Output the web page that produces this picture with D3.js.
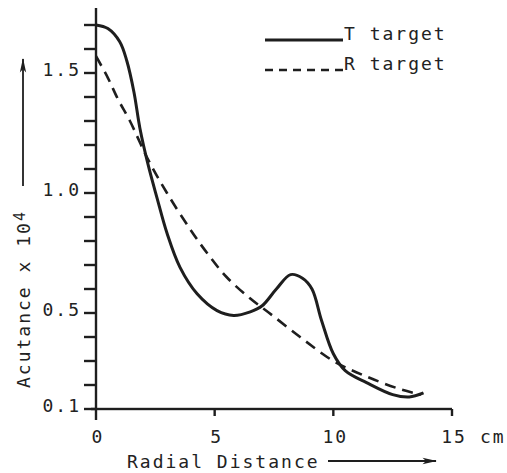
<!DOCTYPE html>
<html>
<head>
<meta charset="utf-8">
<script src="https://cdn.jsdelivr.net/npm/d3@7"></script>
<style>
  body { margin: 0; background: #fff; }
  text { font-family: "DejaVu Sans Mono", "Liberation Mono", monospace; fill: #222; font-size: 18px; letter-spacing: 2px; }
</style>
</head>
<body>
<div id="chart"></div>
<script>
const width = 507
const height = 473

// T target (solid)
const tDist = [0, 0.5, 1, 1.3, 1.6, 1.85, 2.19, 2.57, 3, 3.54, 4.26, 5.1, 5.8, 6.5, 7, 7.6, 8.2, 8.7, 9.1, 9.5, 10, 10.5, 11.4, 12.5, 13.2, 13.8]
const tAcut = [1.70, 1.685, 1.63, 1.55, 1.42, 1.27, 1.12, 0.98, 0.83, 0.69, 0.58, 0.51, 0.49, 0.505, 0.53, 0.6, 0.66, 0.645, 0.6, 0.47, 0.33, 0.26, 0.21, 0.16, 0.15, 0.167]

// R target (dashed)
const rDist = [0, 0.5, 0.93, 1.43, 2.19, 2.99, 3.96, 4.68, 5.5, 6.5, 7.3, 8.6, 10, 11.4, 12.9, 13.7]
const rAcut = [1.57, 1.48, 1.39, 1.30, 1.14, 1.0, 0.85, 0.75, 0.65, 0.56, 0.5, 0.4, 0.3, 0.235, 0.18, 0.16]

const xTicks = [0, 5, 10, 15]
const yTicks = [0.1, 0.2, 0.3, 0.4, 0.5, 0.6, 0.7, 0.8, 0.9, 1.0, 1.1, 1.2, 1.3, 1.4, 1.5, 1.6, 1.7]
const yLabelTicks = [0.1, 0.5, 1.0, 1.5]

const x = d3.scaleLinear().domain([0, 15]).range([96, 452])
const y = d3.scaleLinear().domain([0.1, 1.7]).range([409, 25])

const svg = d3.select("#chart")
    .append("svg")
    .attr("width", width)
    .attr("height", height)

const ink = "#1e1e1e"

// y ticks, pointing left
svg.append("g").selectAll("rect")
  .data(yTicks)
  .join("rect")
    .attr("x", x(0) - 12).attr("width", 12)
    .attr("y", d => y(d) - 1.2).attr("height", 2.4)
    .attr("fill", ink)

// x ticks, pointing down
svg.append("g").selectAll("rect")
  .data(xTicks)
  .join("rect")
    .attr("x", d => x(d) - 1.2).attr("width", 2.4)
    .attr("y", y(0.1)).attr("height", d => d === 0 ? 11 : 7)
    .attr("fill", ink)

// axis lines
svg.append("rect")
    .attr("x", x(0) - 1.2).attr("width", 2.4)
    .attr("y", 8).attr("height", y(0.1) - 8)
    .attr("fill", ink)
svg.append("rect")
    .attr("x", x(0) - 5).attr("width", x(15) - x(0) + 5)
    .attr("y", y(0.1) - 1.2).attr("height", 2.4)
    .attr("fill", ink)

svg.selectAll(".ylab")
  .data(yLabelTicks)
  .join("text")
    .attr("class", "ylab")
    .attr("x", 81).attr("y", d => y(d) + 3)
    .attr("text-anchor", "end")
    .text(d => d.toFixed(1))

svg.selectAll(".xlab")
  .data(xTicks)
  .join("text")
    .attr("class", "xlab")
    .attr("x", d => x(d) + 2).attr("y", 443)
    .attr("text-anchor", "middle")
    .text(d => d)

svg.append("text")
    .attr("x", 480).attr("y", 443)
    .text("cm")

// arrow marker
svg.append("defs").append("marker")
    .attr("id", "arrow")
    .attr("viewBox", "0 0 16 10")
    .attr("refX", 15).attr("refY", 5)
    .attr("markerWidth", 16).attr("markerHeight", 9)
    .attr("markerUnits", "userSpaceOnUse")
    .attr("orient", "auto")
  .append("path")
    .attr("d", "M0,1.5 L16,5 L0,8.5 L4,5 Z")
    .attr("fill", ink)

// axis titles
svg.append("text")
    .attr("x", 127).attr("y", 468)
    .text("Radial Distance")
svg.append("line")
    .attr("x1", 328).attr("x2", 436)
    .attr("y1", 461).attr("y2", 461)
    .attr("stroke", ink).attr("stroke-width", 1.8)
    .attr("marker-end", "url(#arrow)")

const yTitle = svg.append("text")
    .attr("transform", "translate(30,388) rotate(-90)")
yTitle.append("tspan").text("Acutance x 10")
yTitle.append("tspan").attr("dy", "-0.35em").style("font-size", "15px").text("4")
svg.append("line")
    .attr("x1", 23).attr("x2", 23)
    .attr("y1", 186).attr("y2", 59)
    .attr("stroke", ink).attr("stroke-width", 1.8)
    .attr("marker-end", "url(#arrow)")

// curves
const line = d3.line()
    .x(d => x(d[0]))
    .y(d => y(d[1]))
    .curve(d3.curveCatmullRom.alpha(0.5))

svg.append("path")
    .datum(d3.zip(tDist, tAcut))
    .attr("d", line)
    .attr("fill", "none")
    .attr("stroke", ink)
    .attr("stroke-width", 3)

svg.append("path")
    .datum(d3.zip(rDist, rAcut))
    .attr("d", line)
    .attr("fill", "none")
    .attr("stroke", ink)
    .attr("stroke-width", 2.6)
    .attr("stroke-dasharray", "11,7")

// legend
const legend = svg.append("g")
legend.append("line")
    .attr("x1", 265).attr("x2", 343).attr("y1", 40).attr("y2", 40)
    .attr("stroke", ink).attr("stroke-width", 3)
legend.append("text")
    .attr("x", 344).attr("y", 40)
    .text("T target")
legend.append("line")
    .attr("x1", 265).attr("x2", 343).attr("y1", 70).attr("y2", 70)
    .attr("stroke", ink).attr("stroke-width", 2.6)
    .attr("stroke-dasharray", "8,6")
legend.append("text")
    .attr("x", 344).attr("y", 70)
    .text("R target")
</script>
</body>
</html>
